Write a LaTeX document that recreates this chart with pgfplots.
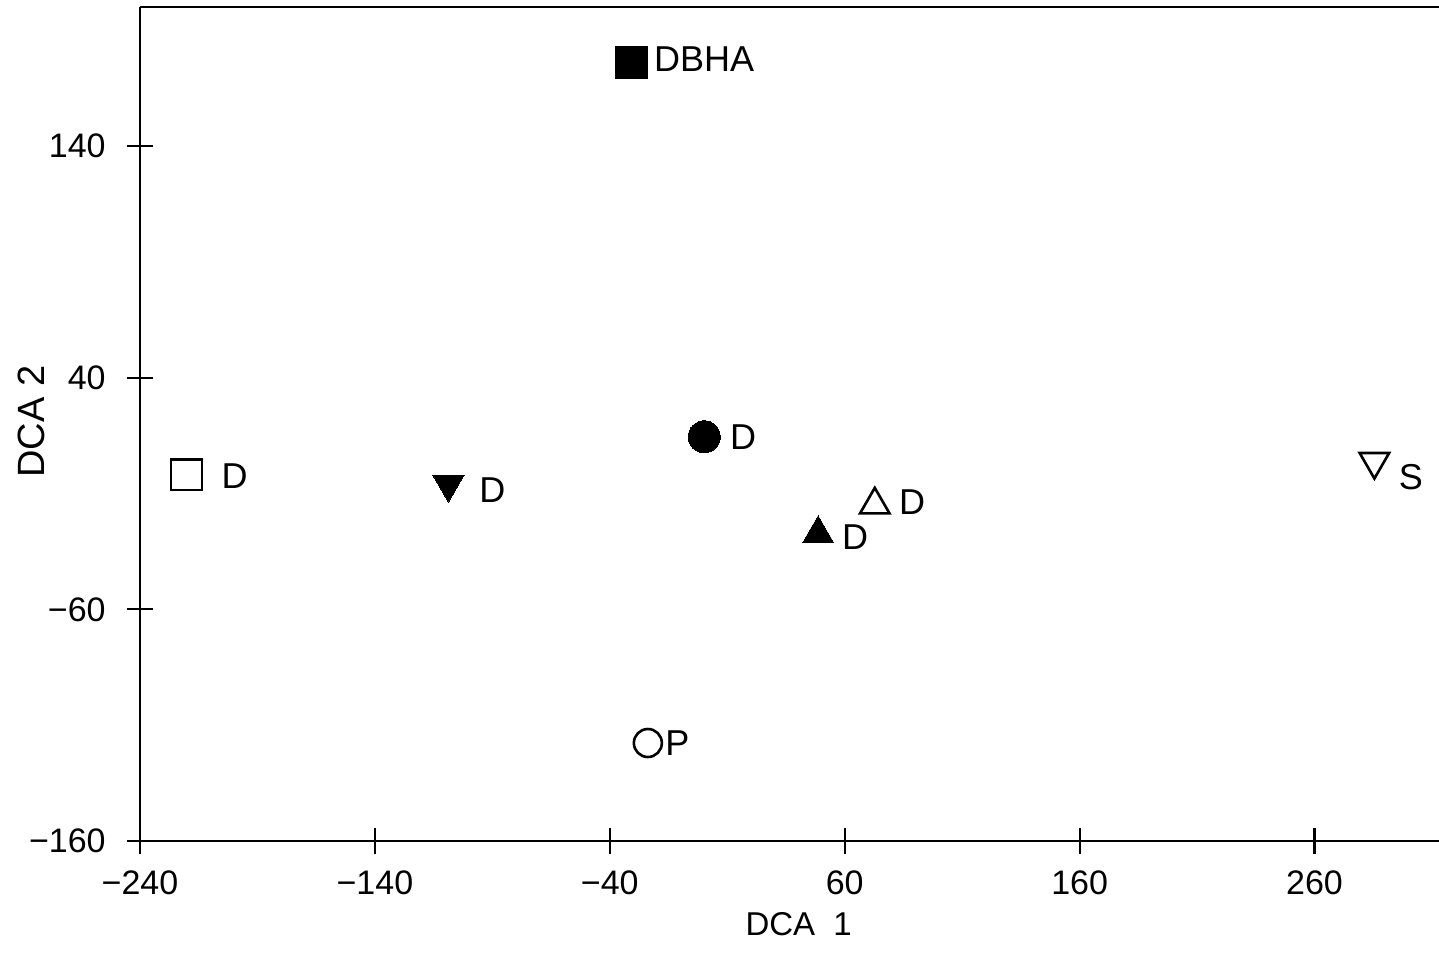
\documentclass[border=0pt]{standalone}
\usepackage{pgfplots}
\pgfplotsset{compat=1.18}
\usepackage{fontspec}
\setmainfont{Liberation Sans}

\begin{document}
\begin{tikzpicture}[lbl/.style={anchor=west, inner sep=0pt, font=\fontsize{18}{21}\selectfont}]
\useasboundingbox (0,0) rectangle (719.5pt,476.5pt);
\begin{axis}[
  at={(70pt,56pt)}, anchor=south west,
  scale only axis, width=649.5pt, height=417pt,
  xmin=-240, xmax=313, ymin=-160, ymax=200,
  axis lines=left,
  axis line style={-, line width=1.3pt},
  clip=false,
  tick align=center,
  major tick length=13pt,
  tick style={line width=1.1pt, black},
  xtick={-240,-140,-40,60,160,260},
  xticklabels={−240,−140,−40,60,160,260},
  ytick={-160,-60,40,140},
  yticklabels={−160,−60,40,140},
  every x tick label/.append style={font=\fontsize{17}{20}\selectfont, inner sep=0pt, anchor=north, yshift=-8pt},
  every y tick label/.append style={font=\fontsize{17}{20}\selectfont, inner sep=0pt, anchor=east, xshift=-10.5pt},
  xlabel={DCA\hspace{0.55em}1},
  ylabel={DCA 2},
  every axis x label/.style={at={(axis description cs:0.507,-0.0995)}, anchor=center, font=\fontsize{16.5}{19}\selectfont, inner sep=0pt},
  every axis y label/.style={at={(axis description cs:-0.0835,0.503)}, anchor=center, rotate=90, font=\fontsize{19}{22}\selectfont, inner sep=0pt},
]
% top frame line (the right side stays open)
\draw[line width=1.3pt] (rel axis cs:0,1) -- (rel axis cs:1,1);

% DBHA, filled square
\addplot[only marks, mark=square*, mark size=8pt, mark options={fill=black, draw=black, line width=0pt}]
  coordinates {(-30.9,175.9)} node[lbl, xshift=11.3pt, yshift=1.7pt] {DBHA};
% filled circle
\addplot[only marks, mark=*, mark size=8pt, mark options={fill=black, draw=black, line width=0pt}]
  coordinates {(0.2,14.5)} node[lbl, xshift=12.8pt] {D};
% open square
\addplot[only marks, mark=square, mark size=7.7pt, mark options={draw=black, line width=1.3pt}]
  coordinates {(-220.2,-1.9)} node[lbl, xshift=17.3pt, yshift=-0.5pt] {D};
% filled down triangle
\addplot[only marks, mark=triangle*, mark size=9pt, mark options={rotate=180, fill=black, draw=black, line width=0pt}]
  coordinates {(-108.7,-5.9)} node[lbl, xshift=15.3pt, yshift=-2.9pt] {D};
% open up triangle
\addplot[only marks, mark=triangle, mark size=8.5pt, mark options={draw=black, line width=1.3pt}]
  coordinates {(72.8,-14.9)} node[lbl, xshift=12pt, yshift=1.5pt] {D};
% filled up triangle
\addplot[only marks, mark=triangle*, mark size=9pt, mark options={fill=black, draw=black, line width=0pt}]
  coordinates {(48.7,-27.4)} node[lbl, xshift=11.8pt, yshift=-1.5pt] {D};
% open down triangle
\addplot[only marks, mark=triangle, mark size=8.5pt, mark options={rotate=180, draw=black, line width=1.3pt}]
  coordinates {(285.5,3.8)} node[lbl, xshift=12pt, yshift=-7.6pt] {S};
% open circle
\addplot[only marks, mark=o, mark size=7pt, mark options={draw=black, line width=1.3pt}]
  coordinates {(-23.8,-117.7)} node[lbl, xshift=8.5pt] {P};
\end{axis}
\end{tikzpicture}
\end{document}
